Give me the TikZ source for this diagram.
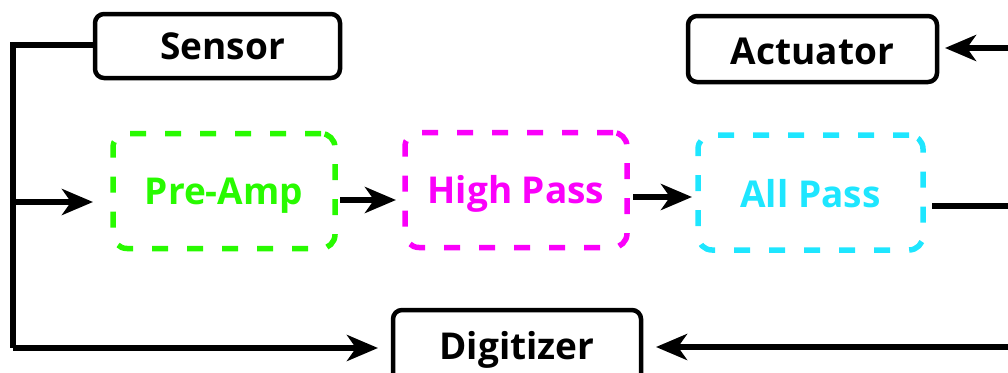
\documentclass[tikz,border=0pt]{standalone}
\usepackage{fontspec}
\setmainfont{Open Sans}
\usetikzlibrary{arrows.meta}
\definecolor{ampgreen}{RGB}{40,250,0}
\definecolor{hpmagenta}{RGB}{250,0,250}
\definecolor{apcyan}{RGB}{30,230,255}
\tikzset{
  label text/.style={font=\fontsize{37}{40}\selectfont\bfseries,
    text height=26pt, text depth=0pt},
  solidbox/.style={draw=black, line width=4.5pt, rounded corners=9pt, fill=white,
    outer sep=0pt, label text, text=black},
  filterbox/.style={line width=5.5pt, rounded corners=14pt,
    dash pattern=on 16pt off 19pt, outer sep=0pt, label text,
    minimum width=222pt, minimum height=115pt},
  wire/.style={line width=5.5pt, draw=black},
  flow/.style={wire, -{Stealth[length=31pt, width=26pt, inset=9pt]}}
}
\begin{document}
\begin{tikzpicture}[x=1pt, y=-1pt]
  \useasboundingbox (0,0) rectangle (1008,372);

  % blocks
  \node[solidbox, minimum width=245pt, minimum height=64pt] (sensor) at (217.5,46) {\hspace{10pt}Sensor};
  \node[solidbox, minimum width=249pt, minimum height=66pt] (actuator) at (812.5,49) {\raisebox{-2pt}{Actuator}};
  \node[solidbox, minimum width=248pt, minimum height=74pt] (digitizer) at (517,347) {\raisebox{1pt}{Digitizer}};

  \node[filterbox, draw=ampgreen, text=ampgreen] (preamp) at (224,191) {Pre-Amp};
  \node[filterbox, draw=hpmagenta, text=hpmagenta] (highpass) at (516,190) {High Pass};
  \node[filterbox, draw=apcyan, text=apcyan, minimum width=225pt] (allpass) at (810.5,192.5) {\raisebox{-2pt}{All Pass}};

  % loose ends of the wiring
  \coordinate (trunktop) at (13,45);
  \coordinate (trunkmid) at (13,202);
  \coordinate (trunkbot) at (13,348);
  \coordinate (actin) at (1015,48);
  \coordinate (apout) at (1015,206);
  \coordinate (digin) at (1015,347);

  % sensor feed down the left side
  \draw[wire, line join=miter] (sensor.west |- trunktop) -- (trunktop) -- (trunkbot);
  \draw[flow, shorten >=20pt] (trunkmid) -- (trunkmid -| preamp.west);
  \draw[flow, line join=miter, shorten >=15pt] (trunkbot) -- (trunkbot -| digitizer.west);

  % filter chain
  \draw[flow, shorten <=5pt, shorten >=9pt] ([yshift=-9pt]preamp.east) -- ([yshift=-9pt]preamp.east -| highpass.west);
  \draw[flow, shorten <=6pt, shorten >=6pt] ([yshift=-7pt]highpass.east) -- ([yshift=-7pt]highpass.east -| allpass.west);
  \draw[wire, shorten <=9pt] (allpass.east |- apout) -- (apout);

  % returns from the right
  \draw[flow, shorten >=8pt] (actin) -- (actin -| actuator.east);
  \draw[flow, shorten >=15pt] (digin) -- (digin -| digitizer.east);
\end{tikzpicture}
\end{document}
